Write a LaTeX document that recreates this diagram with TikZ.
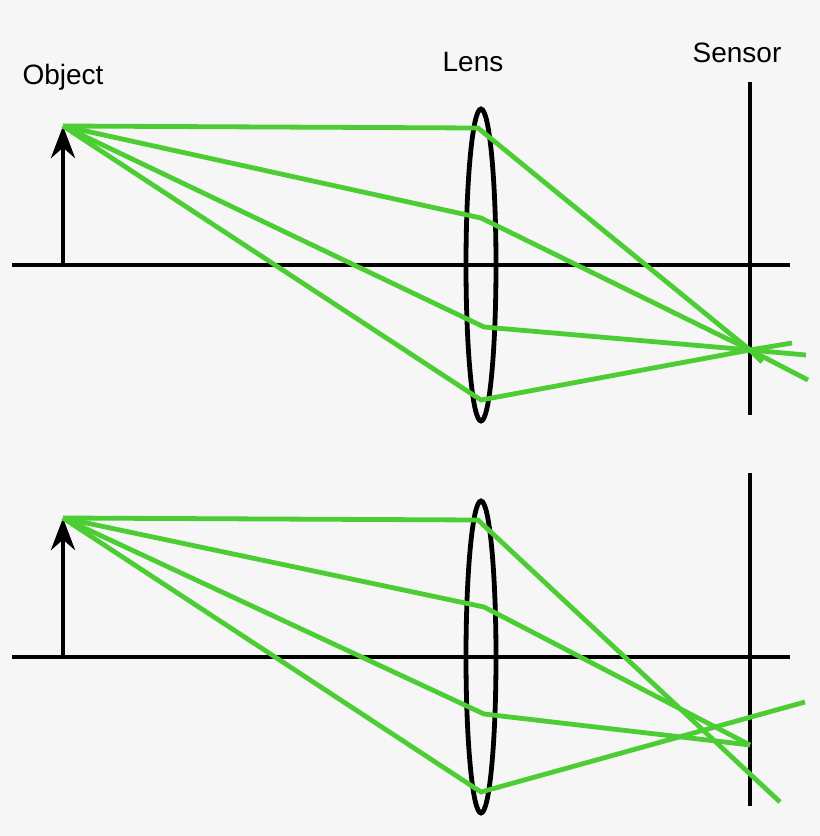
\documentclass[tikz,border=0pt]{standalone}
\usepackage{fontspec}
\setmainfont{Liberation Sans}
\usetikzlibrary{arrows.meta}
\definecolor{ray}{RGB}{76,205,52}
\definecolor{bg}{RGB}{246,246,246}
\begin{document}
\begin{tikzpicture}[x=0.75pt,y=-0.75pt,
  blk/.style={line width=3.6pt,black},
  rayl/.style={line width=3.6pt,ray},
  lens/.style={draw,ellipse,line width=3.6pt,minimum width=30,minimum height=310,inner sep=0pt},
  lbl/.style={font=\fontsize{21}{25}\selectfont,inner sep=0pt}]
\fill[bg] (0,0) rectangle (820,836);
\useasboundingbox (0,0) rectangle (820,836);
\node[lbl] (tobj) at (63,77) {Object};
\node[lbl] (tlens) at (473,62) {Lens};
\node[lbl] (tsens) at (737,53) {Sensor};
% top panel
\coordinate (a1) at (12,265); \coordinate (a2) at (790,265);
\draw[blk] (a1) -- (a2);
\coordinate (ob1) at (63,265); \coordinate (o1) at (63,126);
\draw[blk,-{Stealth[length=24pt,width=18pt]}] (ob1) -- (o1);
\coordinate (s1a) at (750,82); \coordinate (s1b) at (750,415);
\draw[blk] (s1a) -- (s1b);
\draw[line width=3.6pt] (481,265) ellipse [x radius=15,y radius=156];
\coordinate (f1) at (750,350);
\draw[rayl] (o1) -- (478,128) -- (f1) -- (808,380);
\draw[rayl] (o1) -- (481,218) -- (f1) -- (762,362);
\draw[rayl] (o1) -- (484,327) -- (f1) -- (806,355);
\draw[rayl] (o1) -- (481,400) -- (f1) -- (792,343);
% bottom panel
\coordinate (b1) at (12,657); \coordinate (b2) at (790,657);
\draw[blk] (b1) -- (b2);
\coordinate (ob2) at (63,657); \coordinate (o2) at (63,518);
\draw[blk,-{Stealth[length=24pt,width=18pt]}] (ob2) -- (o2);
\coordinate (s2a) at (750,473); \coordinate (s2b) at (750,806);
\draw[blk] (s2a) -- (s2b);
\draw[line width=3.6pt] (481,657) ellipse [x radius=15,y radius=156];
\draw[rayl] (o2) -- (478,520) -- (780,802);
\draw[rayl] (o2) -- (484,607) -- (750,745);
\draw[rayl] (o2) -- (484,714) -- (750,745);
\draw[rayl] (o2) -- (481,792) -- (805,702);
\end{tikzpicture}
\end{document}
